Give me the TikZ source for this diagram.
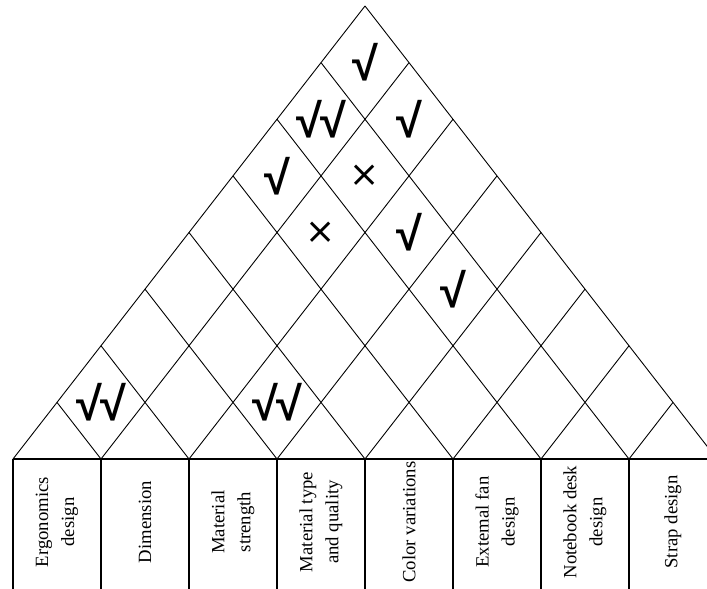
\documentclass[tikz,border=0pt]{standalone}
\usepackage{fontspec}
\setmainfont{Liberation Serif}
\newfontfamily\markfont{Liberation Sans}
\newfontfamily\crossfont{DejaVu Sans}
\begin{document}
\begin{tikzpicture}[x=1pt,y=-1pt,
  gridline/.style={line width=0.9pt},
  tableline/.style={line width=1.7pt},
  label/.style={rotate=90,align=center,font=\fontsize{18.7}{26}\selectfont,inner sep=0pt},
  yes/.style={font=\markfont\bfseries\fontsize{47}{47}\selectfont,inner sep=0pt},
  no/.style={font=\crossfont\fontsize{36}{36}\selectfont,inner sep=0pt}]
\useasboundingbox (0,0) rectangle (707,589);
\clip (0,0) rectangle (707,589);
\def\hh{56.625}
% base points of the roof, and the ends of the lines on its two sides
\foreach \k in {0,...,8}{
  \coordinate (b\k) at ({13+88*\k},459);
  \coordinate (r\k) at ({365+44*\k},{459-\hh*(8-\k)});
  \coordinate (l\k) at ({13+44*\k},{459-\hh*\k});
}
% diamond grid of the roof
\foreach \k in {0,...,8}{
  \draw[gridline] (b\k) -- (r\k);
  \draw[gridline] (b\k) -- (l\k);
}
% table of characteristics below the roof
\draw[tableline] (b0) -- (b8);
\foreach \k in {0,...,8}{
  \coordinate (f\k) at ({13+88*\k},600);
  \draw[tableline] (b\k) -- (f\k);
}
\foreach \t [count=\i from 0] in {Ergonomics\\design, Dimension, Material\\strength,
  Material type\\and quality, Color variations, Extemal fan\\design,
  Notebook desk\\design, Strap design}{
  \node[label] (c\i) at ({57+88*\i},522) {\t};
}
% correlation marks, cell (i,j) centred at (13+44(i+j+1), 459-h(j-i))
\newcommand\cellpos[2]{({13+44*(#1+#2+1)},{459-\hh*(#2-#1)})}
\newcommand\twoticks{√\kern-2pt√}
\node[yes] (m07) at \cellpos{0}{7} {√};
\node[yes] (m06) at \cellpos{0}{6} {\twoticks};
\node[yes] (m17) at \cellpos{1}{7} {√};
\node[yes] (m05) at \cellpos{0}{5} {√};
\node[no]  (m16) at \cellpos{1}{6} {×};
\node[no]  (m15) at \cellpos{1}{5} {×};
\node[yes] (m26) at \cellpos{2}{6} {√};
\node[yes] (m36) at \cellpos{3}{6} {√};
\node[yes] (m01) at \cellpos{0}{1} {\twoticks};
\node[yes] (m23) at \cellpos{2}{3} {\twoticks};
\end{tikzpicture}
\end{document}
